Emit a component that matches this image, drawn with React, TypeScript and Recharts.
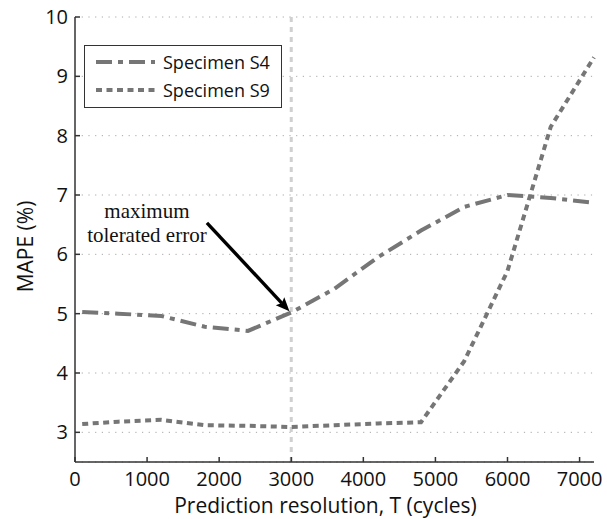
import React from 'react';
import {
  LineChart,
  Line,
  XAxis,
  YAxis,
  CartesianGrid,
  ReferenceLine,
} from 'recharts';

// prediction resolution T (cycles)
const tValues = [100, 600, 1200, 1800, 2400, 3000, 3600, 4200, 4800, 5400, 6000, 6600, 7200];
// MAPE (%) per specimen
const s4Values = [5.03, 5.0, 4.96, 4.78, 4.71, 5.02, 5.42, 5.95, 6.4, 6.8, 7.0, 6.95, 6.87];
const s9Values = [3.14, 3.18, 3.21, 3.12, 3.11, 3.09, 3.12, 3.15, 3.17, 4.2, 5.72, 8.15, 9.32];

const seriesNames = ['Specimen S4', 'Specimen S9'];

const xTicks = [0, 1000, 2000, 3000, 4000, 5000, 6000, 7000];
const yTicks = [3, 4, 5, 6, 7, 8, 9, 10];

const toleratedT = 3000;
const arrowFrom = { x: 1830, y: 6.53 };
const arrowTo = { x: 2975, y: 5.04 };

const data = tValues.map((t, i) => ({ t, s4: s4Values[i], s9: s9Values[i] }));

const SANS = '"Open Sans", "Noto Sans", sans-serif';
const SERIF = '"Liberation Serif", "DejaVu Serif", serif';
const LINE_COLOR = '#767676';
const DASH_S4 = '16 6 5 6';
const DASH_S9 = '6 4.5';
const dashes = [DASH_S4, DASH_S9];

// legend drawn as an overlay so it doesn't eat into the plot area
const LegendBox = () => (
  <div
    style={{
      position: 'absolute',
      left: 84,
      top: 45,
      width: 196,
      height: 59,
      border: '1.5px solid #333',
      background: '#fff',
      paddingTop: 2,
    }}
  >
    {seriesNames.map((name, i) => (
      <div key={name} style={{ display: 'flex', alignItems: 'center', height: 28 }}>
        <svg width={78} height={10} style={{ flex: 'none' }}>
          <line x1={11} y1={5} x2={70} y2={5} stroke={LINE_COLOR} strokeWidth={4} strokeDasharray={dashes[i]} />
        </svg>
        <span style={{ fontFamily: SANS, fontSize: 18, color: '#111', lineHeight: '28px', whiteSpace: 'nowrap' }}>{name}</span>
      </div>
    ))}
  </div>
);

const ArrowShape = (props: any) => {
  const { x1, y1, x2, y2 } = props;
  const ang = Math.atan2(y2 - y1, x2 - x1);
  const len = 15;
  const spread = 0.4;
  const ax = x2 - len * Math.cos(ang - spread);
  const ay = y2 - len * Math.sin(ang - spread);
  const bx = x2 - len * Math.cos(ang + spread);
  const by = y2 - len * Math.sin(ang + spread);
  const bx0 = x2 - len * 0.75 * Math.cos(ang);
  const by0 = y2 - len * 0.75 * Math.sin(ang);
  return (
    <g>
      <line x1={x1} y1={y1} x2={bx0} y2={by0} stroke="#000" strokeWidth={3.4} />
      <polygon points={`${x2},${y2} ${ax},${ay} ${bx0},${by0} ${bx},${by}`} fill="#000" />
      <text x={x1 - 60} y={y1 - 5} textAnchor="middle" fontFamily={SERIF} fontSize={21} fill="#111">
        maximum
      </text>
      <text x={x1 - 60} y={y1 + 19} textAnchor="middle" fontFamily={SERIF} fontSize={21} fill="#111">
        tolerated error
      </text>
    </g>
  );
};

const XLabel = ({ viewBox }: any) => (
  <text x={viewBox.x + viewBox.width / 2 - 9} y={513} textAnchor="middle" fontFamily={SANS} fontSize={21} fill="#111">
    Prediction resolution, T (cycles)
  </text>
);

const YLabel = ({ viewBox }: any) => {
  const cx = 33;
  const cy = viewBox.y + viewBox.height / 2 + 7;
  return (
    <text x={cx} y={cy} transform={`rotate(-90 ${cx} ${cy})`} textAnchor="middle" fontFamily={SANS} fontSize={21} fill="#111">
      MAPE (%)
    </text>
  );
};

export default function App() {
  return (
    <div style={{ position: 'absolute', left: 0, top: 0, width: 607, height: 519, background: '#fff' }}>
      <LineChart width={607} height={519} data={data} margin={{ top: 17, right: 13, bottom: 7, left: 0 }}>
        <CartesianGrid vertical={false} stroke="#a8a8a8" strokeDasharray="1.2 5.5" />
        <XAxis
          dataKey="t"
          type="number"
          domain={[0, 7200]}
          ticks={xTicks}
          interval={0}
          height={50}
          tickSize={-5}
          tickMargin={15}
          stroke="#333"
          strokeWidth={1.5}
          tick={{ fontFamily: SANS, fontSize: 20, fill: '#111' }}
          label={XLabel}
        />
        <YAxis
          type="number"
          domain={[2.5, 10]}
          ticks={yTicks}
          interval={0}
          width={75}
          tickSize={-5}
          tickMargin={12}
          stroke="#333"
          strokeWidth={1.5}
          tick={{ fontFamily: SANS, fontSize: 20, fill: '#111' }}
          label={YLabel}
        />
        <ReferenceLine x={toleratedT} stroke="#d0d0d0" strokeWidth={3} strokeDasharray="5 5" />
        <Line
          name={seriesNames[0]}
          dataKey="s4"
          type="linear"
          stroke={LINE_COLOR}
          strokeWidth={4}
          strokeDasharray={DASH_S4}
          dot={false}
          activeDot={false}
          isAnimationActive={false}
        />
        <Line
          name={seriesNames[1]}
          dataKey="s9"
          type="linear"
          stroke={LINE_COLOR}
          strokeWidth={4}
          strokeDasharray={DASH_S9}
          dot={false}
          activeDot={false}
          isAnimationActive={false}
        />
        <ReferenceLine segment={[arrowFrom, arrowTo]} shape={ArrowShape} />
      </LineChart>
      <LegendBox />
    </div>
  );
}
